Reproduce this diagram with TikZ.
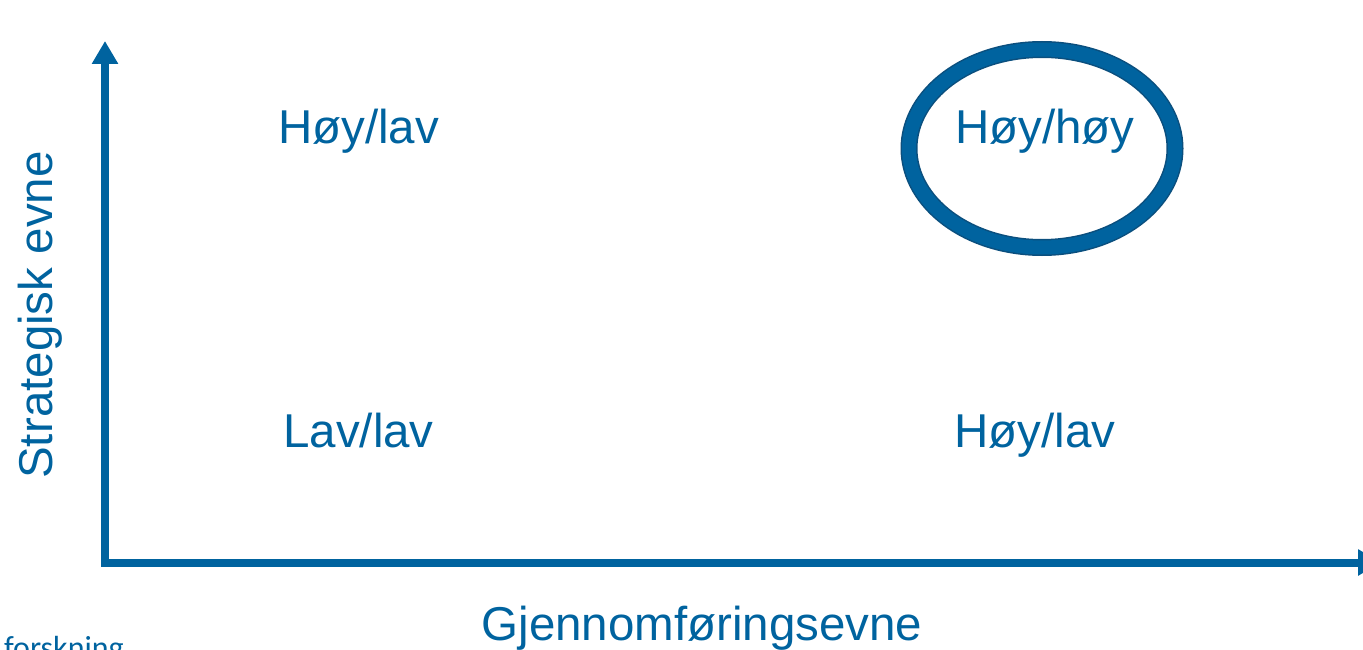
\documentclass[tikz,border=0pt]{standalone}
\usepackage{fontspec}
\setmainfont{Liberation Sans}
\newfontfamily\notefont{Carlito}
\usetikzlibrary{arrows.meta,shapes.geometric}
\definecolor{mainblue}{HTML}{00639F}
\definecolor{edgeblue}{HTML}{0B4F7E}
\tikzset{
  axis/.style={draw=mainblue, line width=8pt, -{Triangle[length=23pt,width=25pt]}},
  label/.style={text=mainblue, inner sep=0pt, font=\fontsize{47.5}{56}\selectfont},
  ringedge/.style={ellipse, draw=edgeblue, line width=17pt, minimum width=266pt, minimum height=198pt, inner sep=0pt},
  ringfill/.style={ellipse, draw=mainblue, line width=14pt, minimum width=266pt, minimum height=198pt, inner sep=0pt},
}
\begin{document}
\begin{tikzpicture}[x=1pt,y=-1pt]
\useasboundingbox (0,0) rectangle (1363,650);
\clip (0,0) rectangle (1363,650);
% axes
\coordinate (ybase) at (105,566.5);
\coordinate (ytip) at (105,41);
\coordinate (xbase) at (101,562.5);
\coordinate (xtip) at (1381,562.5);
\draw[axis] (ybase) -- (ytip);
\draw[axis] (xbase) -- (xtip);
% ring
\node[ringedge] (ringout) at (1042,148.5) {};
\node[ringfill] (ring) at (1042,148.5) {};
% quadrant labels
\node[label, anchor=base] (hl) at (358.5,143) {Høy/lav};
\node[label, anchor=base] (hh) at (1045,143) {Høy/høy};
\node[label, anchor=base] (ll) at (358.5,447) {Lav/lav};
\node[label, anchor=base] (hl2) at (1035,447) {Høy/lav};
% axis titles
\node[label, anchor=base] (xt) at (702,640) {Gjennomføringsevne};
\node[label, anchor=base, rotate=90] (yt) at (52,315) {Strategisk evne};
% clipped footnote
\node[text=mainblue, inner sep=0pt, anchor=base east, font=\notefont\fontsize{32}{36}\selectfont] (src) at (124,658) {forskning};
\end{tikzpicture}
\end{document}
